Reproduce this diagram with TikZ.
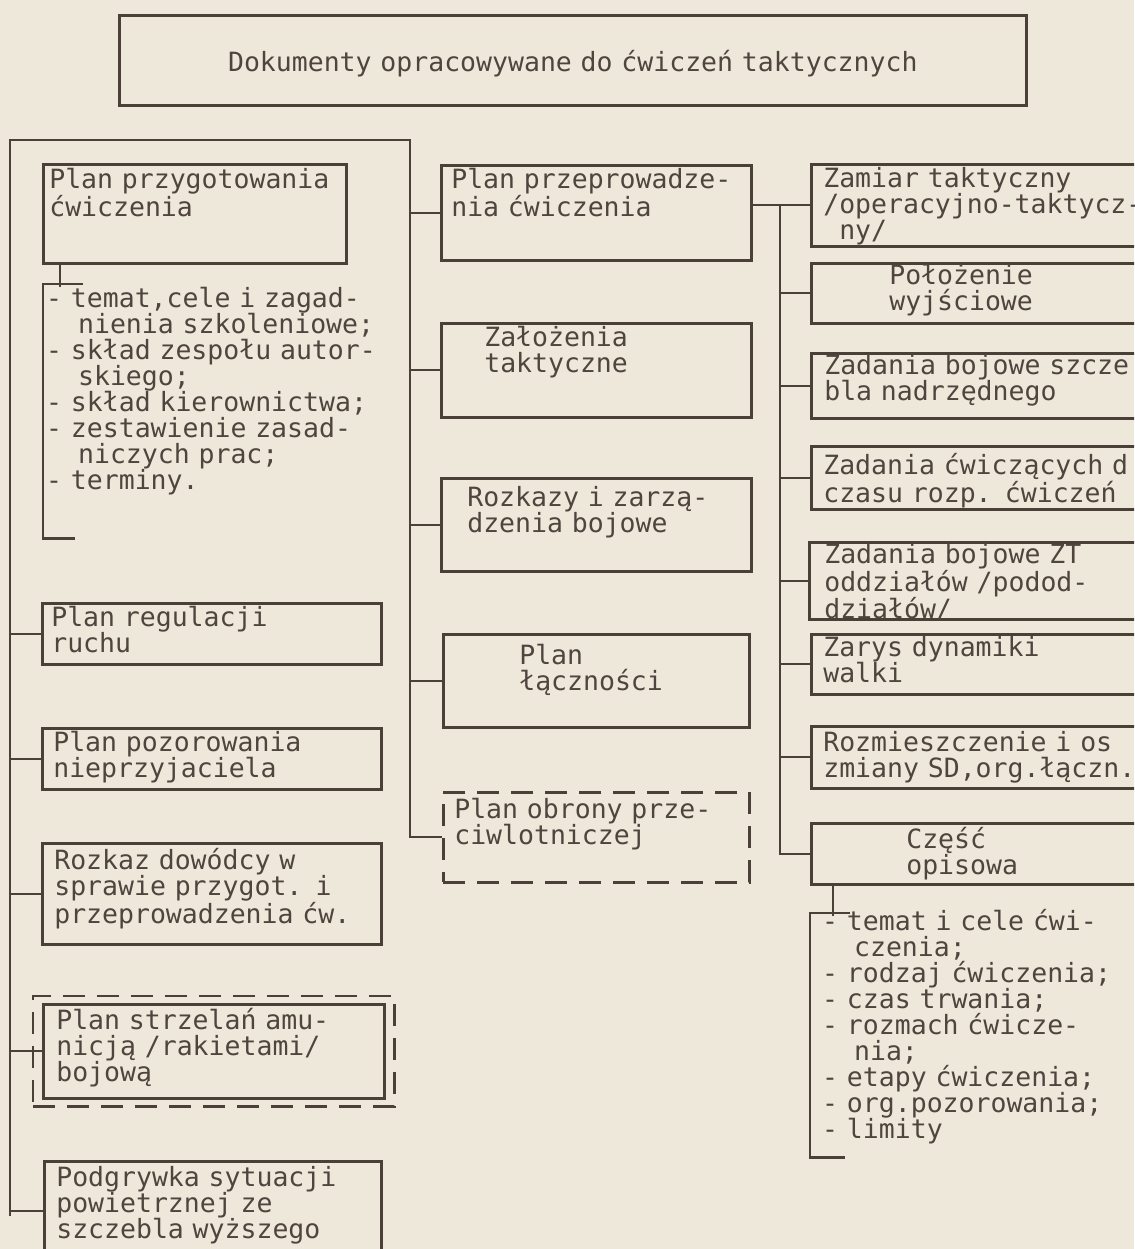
\documentclass[tikz,border=0pt]{standalone}
\usepackage{fontspec}
\usepackage{xcolor}
\usepackage{tikz}
\usetikzlibrary{positioning,fit}
\newfontfamily\typer{DejaVu Sans Mono}
\definecolor{Paper}{HTML}{EEE8DA}
\definecolor{Ink}{HTML}{4A4038}
\definecolor{Type}{HTML}{4F453E}
\newcommand\ii{\phantom{xx}}
\lineskiplimit=-100pt

\begin{document}
\begin{tikzpicture}[
  x=1pt,y=-1pt,
  every node/.style={font=\typer\fontsize{26.5}{26}\selectfont,text=Type},
  doc/.style={draw=Ink,line width=2.6pt,anchor=north west,align=left,inner ysep=0pt},
  dashdoc/.style={doc,dash pattern=on 22pt off 12pt},
  sz/.style n args={4}{inner xsep=#3pt,text width={#1-2*(#3)},text height=#4pt,text depth={#2-(#4)}},
  items/.style={anchor=north west,align=left,inner ysep=0pt},
  wire/.style={draw=Ink,line width=2.3pt}
]
\useasboundingbox (0,0) rectangle (1134,1249);
\clip (0,0) rectangle (1134,1249);
\fill[Paper] (0,0) rectangle (1134,1249);

\node[doc,sz={907}{90}{10}{56},align=center] (title) at (118,14) {Dokumenty opracowywane do ćwiczeń taktycznych};

\node[doc,sz={303}{99}{6}{24}] (przyg) at (42,163) {Plan przygotowania\\ćwiczenia};
\node[items,sz={364}{254}{3}{23}] (tasks) at (43,284) {- temat,cele i zagad-\\\ii nienia szkoleniowe;\\- skład zespołu autor-\\\ii skiego;\\- skład kierownictwa;\\- zestawienie zasad-\\\ii niczych prac;\\- terminy.};
\node[doc,sz={339}{61}{9}{23}] (regul) at (41,602) {Plan regulacji\\ruchu};
\node[doc,sz={339}{61}{11}{23}] (pozor) at (41,727) {Plan pozorowania\\nieprzyjaciela};
\node[doc,sz={339}{101}{12}{26}] (rozkaz) at (41,842) {Rozkaz dowódcy w\\sprawie przygot. i\\przeprowadzenia ćw.};
\node[doc,sz={341}{94}{13}{25}] (strz) at (42,1003) {Plan strzelań amu-\\nicją /rakietami/\\bojową};
\node[dashdoc,fit=(strz),inner xsep=9pt,inner ysep=7pt,anchor=center] (strzout) {};
\node[doc,sz={337}{100}{12}{25}] (podgr) at (43,1160) {Podgrywka sytuacji\\powietrznej ze\\szczebla wyższego};

\node[doc,sz={310}{95}{10}{23}] (prow) at (440,164) {Plan przeprowadze-\\nia ćwiczenia};
\node[doc,sz={310}{94}{43}{23}] (zal) at (440,322) {Założenia\\taktyczne};
\node[doc,sz={310}{93}{26}{28}] (rozk) at (440,477) {Rozkazy i zarzą-\\dzenia bojowe};
\node[doc,sz={306}{93}{76}{30}] (lacz) at (442,633) {Plan\\łączności};
\node[dashdoc,sz={306}{90}{11}{26}] (obr) at (442,791) {Plan obrony prze-\\ciwlotniczej};

\node[doc,sz={360}{82}{12}{23}] (zam) at (810,163) {Zamiar taktyczny\\/operacyjno-taktycz-\\\phantom{x}ny/};
\node[doc,sz={360}{60}{78}{21}] (pol) at (810,262) {Położenie\\wyjściowe};
\node[doc,sz={360}{65}{13}{21}] (szcz) at (810,352) {Zadania bojowe szcze\\bla nadrzędnego};
\node[doc,sz={360}{63}{12}{28}] (cwicz) at (810,445) {Zadania ćwiczących d\\czasu rozp. ćwiczeń};
\node[doc,sz={360}{77}{15}{21}] (zt) at (808,541) {Zadania bojowe ZT\\oddziałów /podod-\\działów/};
\node[doc,sz={360}{60}{12}{22}] (zarys) at (810,633) {Zarys dynamiki\\walki};
\node[doc,sz={360}{62}{12}{25}] (rozm) at (810,725) {Rozmieszczenie i os\\zmiany SD,org.łączn.};
\node[doc,sz={360}{61}{95}{25}] (czesc) at (810,822) {Część\\opisowa};
\node[items,sz={336}{244}{12}{17}] (opis) at (810,913) {- temat i cele ćwi-\\\ii czenia;\\- rodzaj ćwiczenia;\\- czas trwania;\\- rozmach ćwicze-\\\ii nia;\\- etapy ćwiczenia;\\- org.pozorowania;\\- limity};

\coordinate (trunkL) at (10,140);
\coordinate (trunkM) at (410,140);
\coordinate (trunkR) at (780,0);
\draw[wire] ([yshift=-5pt]podgr.west -| trunkL) -- (trunkL) -- (trunkM) -- (trunkM |- obr.west) -- (obr.west);
\foreach \n in {regul,pozor,rozkaz,strz,podgr}
  \draw[wire] (\n.west -| trunkL) -- (\n.west);
\foreach \n in {prow,zal,rozk,lacz}
  \draw[wire] (\n.west -| trunkM) -- (\n.west);
\draw[wire] (prow.east |- zam.west) -- (zam.west);
\draw[wire] (trunkR |- zam.west) -- (trunkR |- czesc.west) -- (czesc.west);
\foreach \n in {pol,szcz,cwicz,zt,zarys,rozm}
  \draw[wire] (trunkR |- \n.west) -- (\n.west);
\draw[wire] ([xshift=18pt]przyg.south west) -- ++(0,22);
\draw[wire] ([xshift=40pt]tasks.north west) -- (tasks.north west) -- (tasks.south west) -- ++(32,0);
\draw[wire] ([xshift=23pt]czesc.south west) -- ++(0,30);
\draw[wire] ([xshift=40pt]opis.north west) -- (opis.north west) -- (opis.south west) -- ++(35,0);
\end{tikzpicture}
\end{document}
